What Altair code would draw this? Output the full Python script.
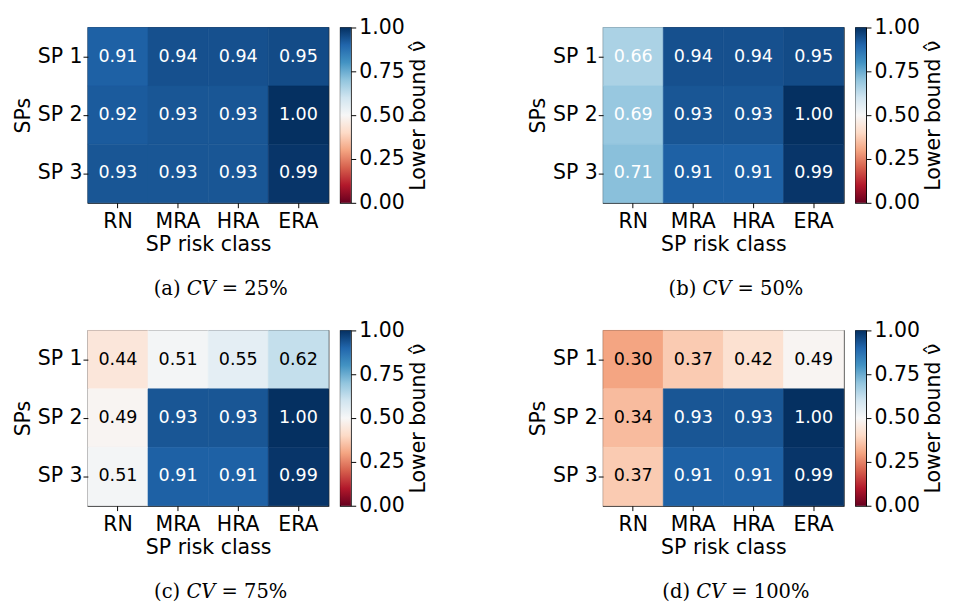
import altair as alt
import pandas as pd

classes = ["RN", "MRA", "HRA", "ERA"]
sps = ["SP 1", "SP 2", "SP 3"]

vals_a = [[0.91, 0.94, 0.94, 0.95], [0.92, 0.93, 0.93, 1.00], [0.93, 0.93, 0.93, 0.99]]
vals_b = [[0.66, 0.94, 0.94, 0.95], [0.69, 0.93, 0.93, 1.00], [0.71, 0.91, 0.91, 0.99]]
vals_c = [[0.44, 0.51, 0.55, 0.62], [0.49, 0.93, 0.93, 1.00], [0.51, 0.91, 0.91, 0.99]]
vals_d = [[0.30, 0.37, 0.42, 0.49], [0.34, 0.93, 0.93, 1.00], [0.37, 0.91, 0.91, 0.99]]

captions = ["(a) 𝐶𝑉 = 25%", "(b) 𝐶𝑉 = 50%", "(c) 𝐶𝑉 = 75%", "(d) 𝐶𝑉 = 100%"]
cbar_ticks = [0.0, 0.25, 0.5, 0.75, 1.0]
# RdBu colour stops (0 -> 1)
rdbu = ["#67001f", "#b2182b", "#d6604d", "#f4a582", "#fddbc7", "#f7f7f7",
        "#d1e5f0", "#92c5de", "#4393c3", "#2166ac", "#053061"]
rdbu_domain = [k / (len(rdbu) - 1) for k in range(len(rdbu))]

FONT = "DejaVu Sans"
cscale = alt.Scale(domain=rdbu_domain, range=rdbu, interpolate="rgb")


def heatmap(vals):
    rows = []
    for i, sp in enumerate(sps):
        for j, c in enumerate(classes):
            rows.append({"sp": sp, "cls": c, "v": vals[i][j]})
    df = pd.DataFrame(rows)
    base = alt.Chart(df)
    x = alt.X("cls:N", sort=classes, title="SP risk class",
              axis=alt.Axis(labelAngle=0, tickSize=5, labelPadding=3, titlePadding=3))
    y = alt.Y("sp:N", sort=sps, title="SPs",
              axis=alt.Axis(tickSize=5, labelPadding=1, titlePadding=4))
    rect = base.mark_rect(strokeWidth=0.6).encode(
        x=x, y=y,
        color=alt.Color("v:Q", scale=cscale, legend=None),
        stroke=alt.Stroke("v:Q", scale=cscale, legend=None),
    )
    text = base.mark_text(fontSize=18, font=FONT).encode(
        x=x, y=y,
        text=alt.Text("v:Q", format=".2f"),
        color=alt.condition(alt.datum.v > 0.64, alt.value("white"), alt.value("black")),
    )
    return alt.layer(rect, text).properties(width=247, height=180)


def colorbar():
    df = pd.DataFrame({"lo": [0.0], "hi": [1.0]})
    grad = alt.Gradient(
        gradient="linear",
        stops=[alt.GradientStop(offset=o, color=c) for o, c in zip(rdbu_domain, rdbu)],
        x1=0, x2=0, y1=1, y2=0,
    )
    return alt.Chart(df).mark_rect(color=grad).encode(
        y=alt.Y("lo:Q", scale=alt.Scale(domain=[0, 1], nice=False, zero=False),
                axis=alt.Axis(orient="right", values=cbar_ticks, format=".2f",
                              tickSize=5, labelPadding=3, labelFlush=False,
                              labelOverlap=False, labelBaseline="middle",
                              title="Lower bound ν̂", titleAngle=270,
                              titleBaseline="alphabetic", titlePadding=21)),
        y2="hi:Q",
    ).properties(width=11, height=180)


def panel(vals, caption):
    return alt.hconcat(heatmap(vals), colorbar(), spacing=10).properties(
        title=alt.TitleParams(caption, orient="bottom", font="DejaVu Serif",
                              fontSize=20, fontWeight="normal", offset=25,
                              anchor="middle", color="black"),
    )


top = alt.hconcat(panel(vals_a, captions[0]), panel(vals_b, captions[1]), spacing=100)
bottom = alt.hconcat(panel(vals_c, captions[2]), panel(vals_d, captions[3]), spacing=100)

chart = alt.vconcat(top, bottom, spacing=20).properties(
    padding={"left": 4, "top": 0, "right": 0, "bottom": 0}
).configure_axis(
    labelFont=FONT, titleFont=FONT, labelFontSize=21, titleFontSize=21,
    titleFontWeight="normal", labelColor="black", titleColor="black", tickColor="black",
    grid=False, domain=False,
).configure_view(stroke="black", strokeWidth=1.2)

chart.save("out.html", embed_options={"renderer": "svg", "actions": False})
